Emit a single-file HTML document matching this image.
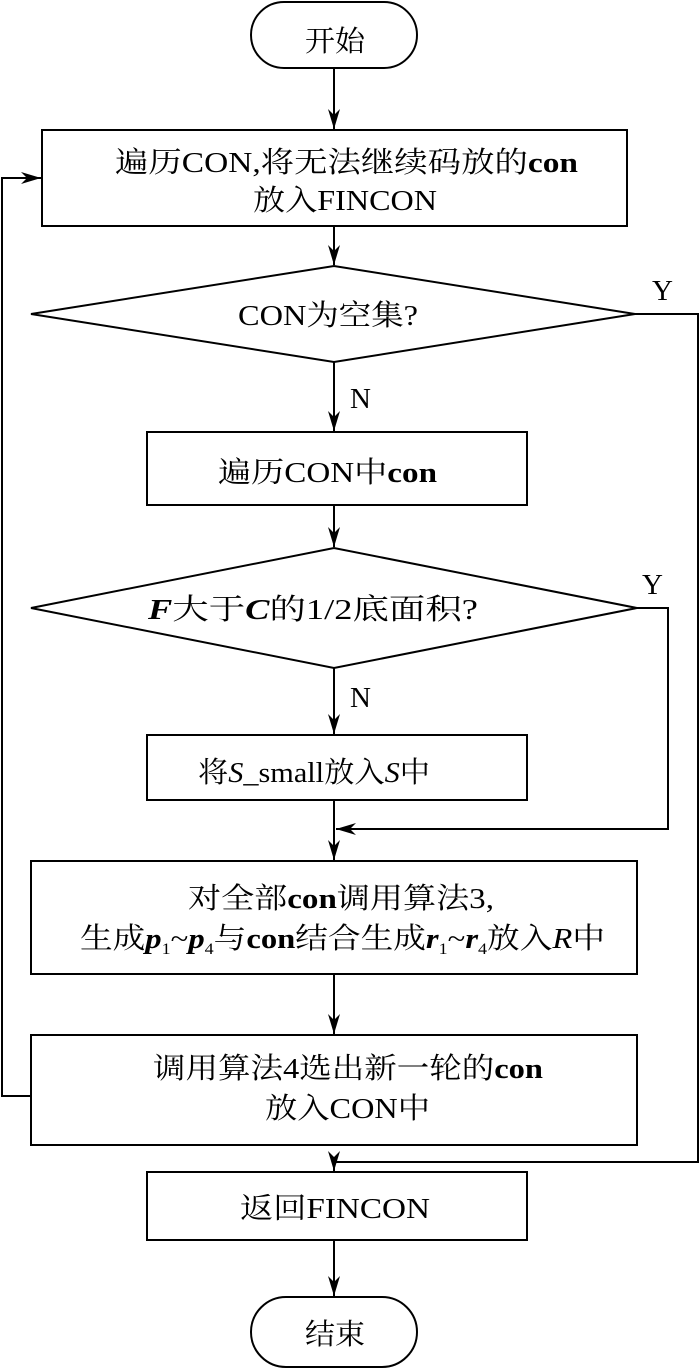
<!DOCTYPE html>
<html><head><meta charset="utf-8"><style>html,body{margin:0;padding:0;background:#fff}svg{display:block}</style></head>
<body>
<svg width="700" height="1372" viewBox="0 0 700 1372" xmlns="http://www.w3.org/2000/svg" font-family="'Liberation Serif','Noto Serif CJK SC','Noto Sans CJK SC',serif" font-size="29" fill="#000">
<defs><marker id="a" markerWidth="24" markerHeight="14" refX="20" refY="6" orient="auto" markerUnits="userSpaceOnUse" overflow="visible"><path d="M0,0 L20,6 L0,12 L6,6 Z" fill="#000" stroke="none"/></marker></defs>
<g stroke="#000" stroke-width="2" fill="none">
<rect x="251" y="2" width="166" height="66" rx="33"/>
<rect x="42" y="130" width="585" height="96"/>
<polygon points="31,314 334,266 635,314 334,362"/>
<rect x="147" y="432" width="380" height="73"/>
<polygon points="31,608 334,548 637,608 334,668"/>
<rect x="147" y="735" width="380" height="65"/>
<rect x="31" y="861" width="606" height="113"/>
<rect x="31" y="1035" width="606" height="110"/>
<rect x="147" y="1172" width="380" height="68"/>
<rect x="251" y="1297" width="166" height="70" rx="35"/>
<line x1="334" y1="68" x2="334" y2="129" marker-end="url(#a)"/>
<line x1="334" y1="226" x2="334" y2="265" marker-end="url(#a)"/>
<line x1="334" y1="362" x2="334" y2="431" marker-end="url(#a)"/>
<line x1="334" y1="505" x2="334" y2="547" marker-end="url(#a)"/>
<line x1="334" y1="668" x2="334" y2="734" marker-end="url(#a)"/>
<line x1="334" y1="800" x2="334" y2="860" marker-end="url(#a)"/>
<line x1="334" y1="974" x2="334" y2="1034" marker-end="url(#a)"/>
<line x1="334" y1="1240" x2="334" y2="1296" marker-end="url(#a)"/>
<polyline points="637,608 668,608 668,829 336,829" marker-end="url(#a)"/>
<polyline points="635,314 698,314 698,1162 334,1162"/>
<line x1="334" y1="1162" x2="334" y2="1171" marker-end="url(#a)"/>
<polyline points="31,1096 2,1096 2,178 41,178" marker-end="url(#a)"/>
</g>
<text x="305" y="51" textLength="60" lengthAdjust="spacingAndGlyphs">开始</text>
<text x="115" y="172" textLength="463" lengthAdjust="spacingAndGlyphs">遍历CON,将无法继续码放的<tspan font-weight="bold">con</tspan></text>
<text x="253" y="210" textLength="184" lengthAdjust="spacingAndGlyphs">放入FINCON</text>
<text x="238" y="325" textLength="180" lengthAdjust="spacingAndGlyphs">CON为空集?</text>
<text x="652" y="300">Y</text>
<text x="350" y="408">N</text>
<text x="218" y="482" textLength="219" lengthAdjust="spacingAndGlyphs">遍历CON中<tspan font-weight="bold">con</tspan></text>
<text x="148" y="619" textLength="330" lengthAdjust="spacingAndGlyphs"><tspan font-weight="bold" font-style="italic">F</tspan>大于<tspan font-weight="bold" font-style="italic">C</tspan>的1/2底面积?</text>
<text x="642" y="594">Y</text>
<text x="350" y="707">N</text>
<text x="198" y="782" textLength="232" lengthAdjust="spacingAndGlyphs">将<tspan font-style="italic">S</tspan>_small放入<tspan font-style="italic">S</tspan>中</text>
<text x="188" y="908" textLength="306" lengthAdjust="spacingAndGlyphs">对全部<tspan font-weight="bold">con</tspan>调用算法3,</text>
<text x="80" y="948" textLength="525" lengthAdjust="spacingAndGlyphs">生成<tspan font-weight="bold" font-style="italic">p</tspan><tspan font-size="16" dy="6">1</tspan><tspan dy="-6">~</tspan><tspan font-weight="bold" font-style="italic">p</tspan><tspan font-size="16" dy="6">4</tspan><tspan dy="-6">与</tspan><tspan font-weight="bold">con</tspan>结合生成<tspan font-weight="bold" font-style="italic">r</tspan><tspan font-size="16" dy="6">1</tspan><tspan dy="-6">~</tspan><tspan font-weight="bold" font-style="italic">r</tspan><tspan font-size="16" dy="6">4</tspan><tspan dy="-6">放入</tspan><tspan font-style="italic">R</tspan>中</text>
<text x="153" y="1078" textLength="390" lengthAdjust="spacingAndGlyphs">调用算法4选出新一轮的<tspan font-weight="bold">con</tspan></text>
<text x="265" y="1118" textLength="165" lengthAdjust="spacingAndGlyphs">放入CON中</text>
<text x="240" y="1218" textLength="190" lengthAdjust="spacingAndGlyphs">返回FINCON</text>
<text x="305" y="1344" textLength="60" lengthAdjust="spacingAndGlyphs">结束</text>
</svg>
</body></html>
